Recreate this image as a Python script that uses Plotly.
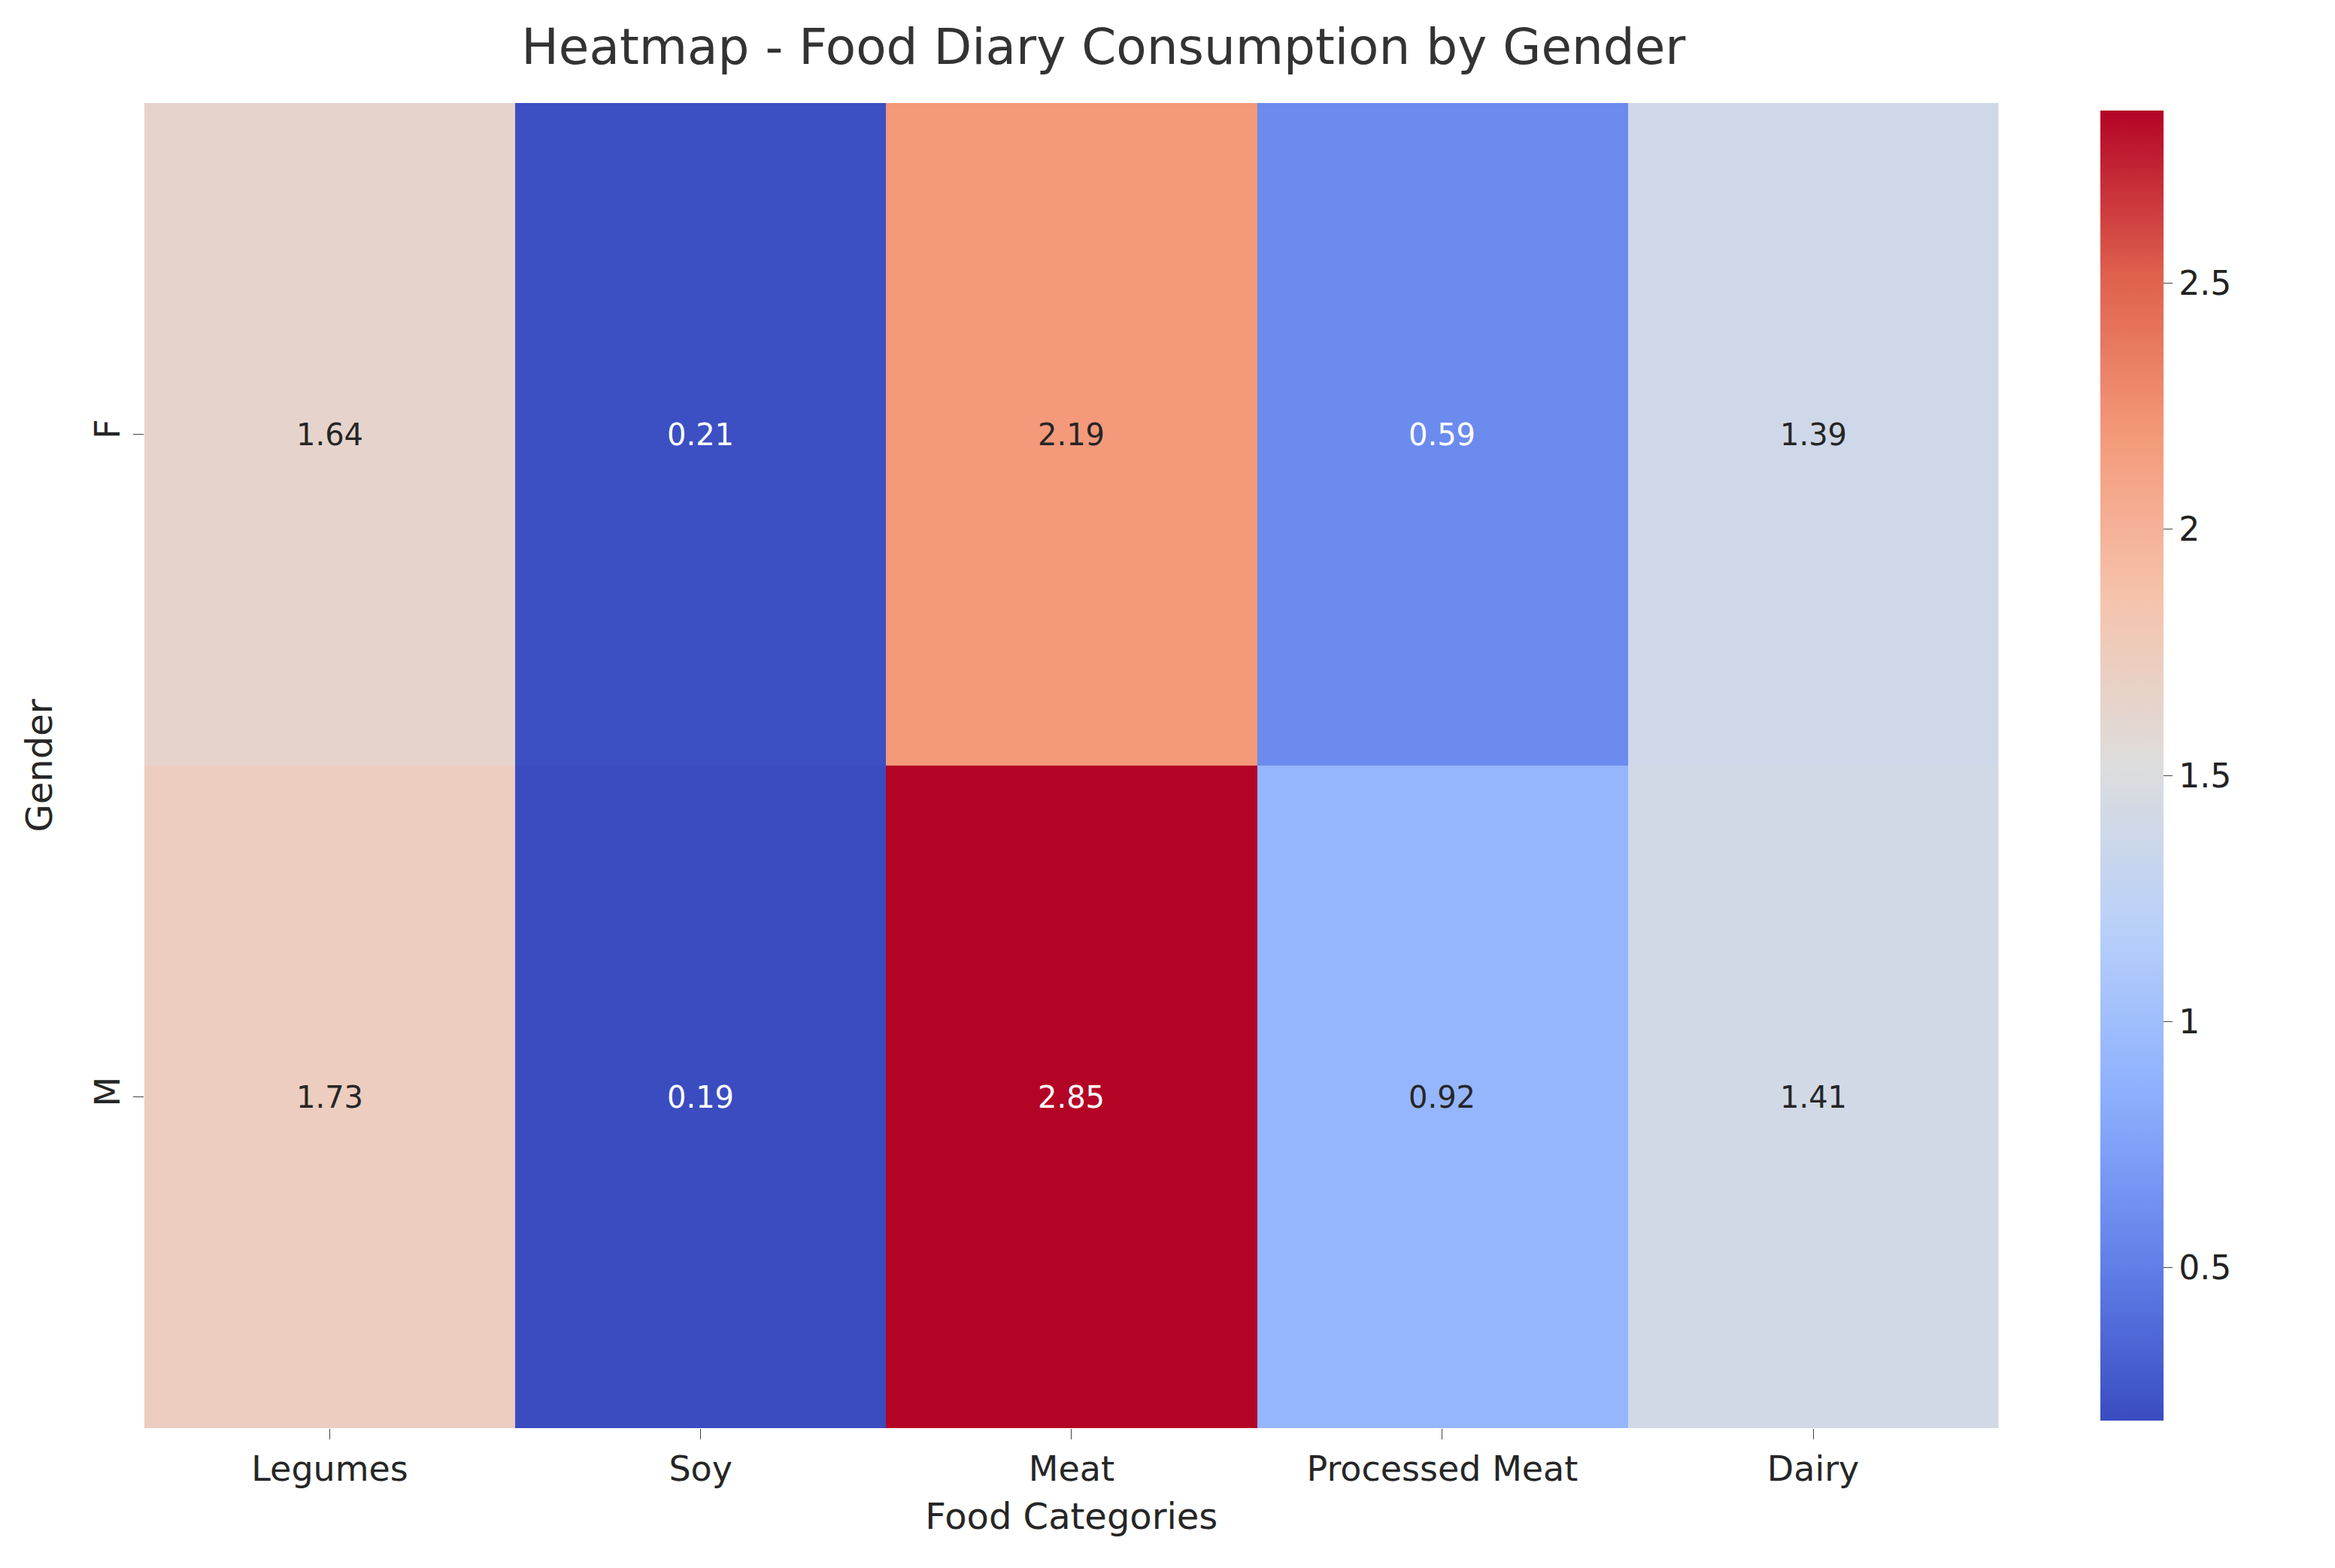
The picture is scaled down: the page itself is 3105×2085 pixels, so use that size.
import plotly.graph_objects as go

categories = ["Legumes", "Soy", "Meat", "Processed Meat", "Dairy"]
genders = ["F", "M"]
values_f = [1.64, 0.21, 2.19, 0.59, 1.39]
values_m = [1.73, 0.19, 2.85, 0.92, 1.41]
z = [values_f, values_m]

# approx matplotlib coolwarm
coolwarm = [
    [0.0, "rgb(58,76,192)"], [0.125, "rgb(98,130,234)"], [0.25, "rgb(141,176,254)"],
    [0.375, "rgb(184,208,249)"], [0.5, "rgb(221,221,221)"], [0.625, "rgb(245,196,173)"],
    [0.75, "rgb(244,154,123)"], [0.875, "rgb(222,96,77)"], [1.0, "rgb(180,4,38)"],
]

zmin = min(min(r) for r in z)
zmax = max(max(r) for r in z)

fig = go.Figure(go.Heatmap(
    z=z, x=categories, y=genders, colorscale=coolwarm, zmin=zmin, zmax=zmax,
    xgap=0, ygap=0,
    colorbar=dict(x=0.93, xanchor="left", len=1, y=0.5, yanchor="middle", thickness=84,
                  tickvals=[0.5, 1.0, 1.5, 2.0, 2.5], ticks="outside", ticklen=12,
                  outlinewidth=0, tickfont=dict(size=44, color="#222")),
))

annotations = []
for gi, g in enumerate(genders):
    for ci, c in enumerate(categories):
        v = z[gi][ci]
        t = (v - zmin) / (zmax - zmin)
        col = "white" if (t < 0.25 or t > 0.85) else "#262626"
        annotations.append(dict(x=c, y=g, text=f"{v:.2f}", showarrow=False,
                                font=dict(size=40, color=col)))

fig.update_layout(
    width=3105, height=2085, paper_bgcolor="white", plot_bgcolor="white",
    font=dict(family="DejaVu Sans", color="#262626"),
    margin=dict(l=184, r=135, t=129, b=194),
    title=dict(text="Heatmap - Food Diary Consumption by Gender", x=0.47, xanchor="center",
               y=0.985, yanchor="top", font=dict(size=66, color="#333")),
    annotations=annotations,
    xaxis=dict(title=dict(text="Food Categories", font=dict(size=48), standoff=20),
               domain=[0, 0.885], ticks="outside", ticklen=14, tickfont=dict(size=46),
               showgrid=False, zeroline=False),
    yaxis=dict(title=dict(text="Gender", font=dict(size=48), standoff=30),
               autorange="reversed", ticks="outside", ticklen=14, tickangle=-90,
               tickfont=dict(size=46), showgrid=False, zeroline=False),
)

fig.write_html("out.html")
